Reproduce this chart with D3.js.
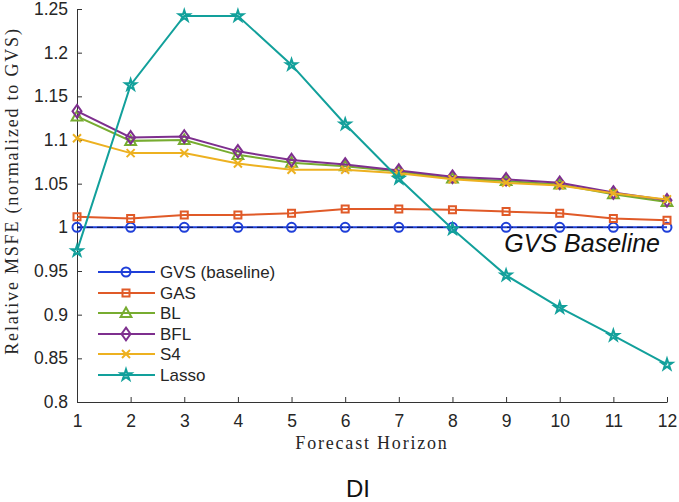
<!DOCTYPE html>
<html><head><meta charset="utf-8">
<script src="https://cdn.jsdelivr.net/npm/d3@7"></script>
<style>body{margin:0;background:#fff}svg{display:block}</style>
</head><body>
<svg id="c" width="679" height="502"></svg>
<script>
const horizons = [1,2,3,4,5,6,7,8,9,10,11,12];
const gvs   = [1,1,1,1,1,1,1,1,1,1,1,1];
const gas   = [1.012,1.010,1.014,1.014,1.016,1.021,1.021,1.020,1.018,1.016,1.010,1.008];
const bl    = [1.127,1.099,1.100,1.083,1.074,1.070,1.064,1.056,1.053,1.049,1.038,1.029];
const bfl   = [1.133,1.103,1.104,1.087,1.077,1.072,1.065,1.058,1.055,1.051,1.040,1.031];
const s4    = [1.102,1.085,1.085,1.073,1.066,1.066,1.062,1.055,1.051,1.048,1.039,1.032];
const lasso = [0.973,1.163,1.242,1.242,1.186,1.118,1.056,0.998,0.945,0.908,0.876,0.843];
const yTicks = [0.8,0.85,0.9,0.95,1,1.05,1.1,1.15,1.2,1.25];
const seriesNames = ["GVS (baseline)","GAS","BL","BFL","S4","Lasso"];
const seriesData = [gvs,gas,bl,bfl,s4,lasso];
const colors = ["#1f3fd9","#e05a28","#77ac30","#7e2f8e","#edb120","#12a09b"];
const markers = ["circle","square","triangle","diamond","x","star"];

const svg = d3.select("#c");
const L=77,R=667,T=9,B=402;
const x = d3.scaleLinear().domain([1,12]).range([L,R]);
const y = d3.scaleLinear().domain([0.8,1.25]).range([B,T]);
const sans = "Liberation Sans, Arial, sans-serif";
const serif = "Liberation Serif, DejaVu Serif, serif";

// axes
const xa = svg.append("g").attr("transform",`translate(0,${B})`)
  .call(d3.axisBottom(x).tickValues(horizons).tickFormat(d3.format("d")).tickSizeInner(-5).tickSizeOuter(0).tickPadding(13));
const ya = svg.append("g").attr("transform",`translate(${L},0)`)
  .call(d3.axisLeft(y).tickValues(yTicks).tickFormat(d=>String(+d.toFixed(2))).tickSizeInner(-5).tickSizeOuter(0).tickPadding(9));
[xa,ya].forEach(a=>{
  a.selectAll("path").attr("stroke","#333").attr("stroke-width",1);
  a.selectAll("line").attr("stroke","#333");
  a.selectAll("text").attr("font-family",sans).attr("font-size",17.5).attr("fill","#262626");
});
xa.selectAll("text").attr("dy","0.71em");

function markerPath(type,s){
  switch(type){
    case "circle": return d3.symbol(d3.symbolCircle, s*s*0.785)();
    case "square": return `M${-s/2},${-s/2}h${s}v${s}h${-s}Z`;
    case "triangle": return `M0,${-s*0.6}L${s*0.6},${s*0.45}L${-s*0.6},${s*0.45}Z`;
    case "diamond": return `M0,${-s*0.7}L${s*0.5},0L0,${s*0.7}L${-s*0.5},0Z`;
    case "x": return `M${-s/2},${-s/2}L${s/2},${s/2}M${s/2},${-s/2}L${-s/2},${s/2}`;
    case "star": return d3.symbol(d3.symbolStar, s*s*0.36)();
  }
}
const msize=[9,7,9,9,8,10];

const line = d3.line().x((d,i)=>x(horizons[i])).y(d=>y(d));
seriesData.forEach((data,k)=>{
  const g = svg.append("g");
  g.append("path").datum(data).attr("d",line).attr("fill","none")
    .attr("stroke",colors[k]).attr("stroke-width",2);
  if(k===0){
    g.append("path").datum(data).attr("d",line).attr("fill","none")
      .attr("stroke","#0a1a6a").attr("stroke-width",1.2).attr("stroke-dasharray","6,4");
  }
  g.selectAll("path.m").data(data).join("path").attr("class","m")
    .attr("transform",(d,i)=>`translate(${x(horizons[i])},${y(d)})`)
    .attr("d",markerPath(markers[k],msize[k]))
    .attr("fill","none").attr("stroke",colors[k]).attr("stroke-width",2);
});

// legend
const legY=[272,293,313,334,354,375];
seriesNames.forEach((n,k)=>{
  const g=svg.append("g");
  g.append("line").attr("x1",98).attr("x2",155).attr("y1",legY[k]).attr("y2",legY[k])
   .attr("stroke",colors[k]).attr("stroke-width",2);
  g.append("path").attr("transform",`translate(126,${legY[k]})`).attr("d",markerPath(markers[k],msize[k]))
   .attr("fill","none").attr("stroke",colors[k]).attr("stroke-width",2);
  g.append("text").attr("x",160).attr("y",legY[k]).attr("dy","0.35em")
   .attr("font-family",sans).attr("font-size",17).attr("fill","#262626").text(n);
});

svg.append("text").attr("x",660).attr("y",252).attr("text-anchor","end")
  .attr("font-family",sans).attr("font-style","italic").attr("font-size",25).attr("fill","#111").text("GVS Baseline");

svg.append("text").attr("transform","translate(18,191) rotate(-90)").attr("text-anchor","middle")
  .attr("font-family",serif).attr("font-size",18).attr("letter-spacing",1.8).attr("fill","#262626").text("Relative MSFE (normalized to GVS)");
svg.append("text").attr("x",372).attr("y",449).attr("text-anchor","middle")
  .attr("font-family",serif).attr("font-size",18).attr("letter-spacing",1.8).attr("fill","#262626").text("Forecast Horizon");
svg.append("text").attr("x",358).attr("y",497).attr("text-anchor","middle")
  .attr("font-family",sans).attr("font-size",24).attr("fill","#111").text("DI");
</script>
</body></html>
